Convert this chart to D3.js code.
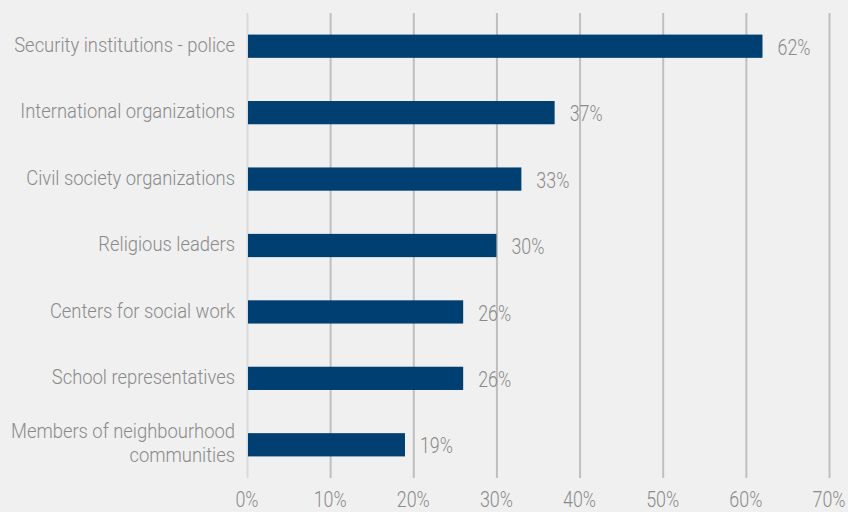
<!DOCTYPE html>
<html>
<head>
<meta charset="utf-8">
<script src="https://cdn.jsdelivr.net/npm/d3@7"></script>
<style>
  html, body { margin: 0; padding: 0; background: #f0f0f0; }
  svg { display: block; }
  text { font-family: Roboto, "Noto Sans", sans-serif; font-weight: 300; fill: #8a8a8a; }
</style>
</head>
<body>
<svg id="chart" width="848" height="512"></svg>
<script>
const categories = [
  "Security institutions - police",
  "International organizations",
  "Civil society organizations",
  "Religious leaders",
  "Centers for social work",
  "School representatives",
  "Members of neighbourhood communities"
];
const values = [62, 37, 33, 30, 26, 26, 19];
const tickValues = [0, 10, 20, 30, 40, 50, 60, 70];

const W = 848, H = 512;
const margin = { top: 13, right: 19, bottom: 34, left: 247 };
const svg = d3.select("#chart");

svg.append("rect").attr("width", W).attr("height", H).attr("fill", "#f0f0f0");

const x = d3.scaleLinear().domain([0, 70]).range([margin.left, W - margin.right]);
const y = d3.scaleBand().domain(categories).range([margin.top, H - margin.bottom]).paddingInner(0.65).paddingOuter(0.325);

// condensed look: measure a sample string and squeeze horizontally
function squeezeFactor(sample, size, target) {
  const t = svg.append("text").attr("font-size", size).text(sample);
  const w = t.node().getComputedTextLength();
  t.remove();
  return target / w;
}
const catSize = 19.5, numSize = 22;
const catScale = squeezeFactor(categories[0], catSize, 221);
const numScale = squeezeFactor("62%", numSize, 33);

// vertical gridlines
svg.append("g").selectAll("line").data(tickValues).join("line")
  .attr("x1", d => x(d) + 0.5).attr("x2", d => x(d) + 0.5)
  .attr("y1", margin.top).attr("y2", H - margin.bottom)
  .attr("stroke", d => d === 0 ? "#d9d9d9" : "#bfbfbf")
  .attr("stroke-width", 2);

// x-axis tick labels
svg.append("g").selectAll("text").data(tickValues).join("text")
  .attr("transform", d => `translate(${x(d)},499.5) scale(${numScale},1)`)
  .attr("text-anchor", "middle").attr("dominant-baseline", "central")
  .attr("font-size", numSize)
  .text(d => d + "%");

// bars
svg.append("g").selectAll("rect").data(categories).join("rect")
  .attr("x", x(0) + 1)
  .attr("y", d => y(d))
  .attr("width", (d, i) => x(values[i]) - x(0) - 1)
  .attr("height", y.bandwidth())
  .attr("fill", "#003f72");

// value labels
svg.append("g").selectAll("text").data(categories).join("text")
  .attr("transform", (d, i) => `translate(${x(values[i]) + 15},${y(d) + y.bandwidth() / 2 + 1}) scale(${numScale},1)`)
  .attr("dominant-baseline", "central")
  .attr("font-size", numSize)
  .text((d, i) => values[i] + "%");

// category labels (wrapped where needed)
const wrap = {
  "Members of neighbourhood communities": ["Members of neighbourhood", "communities"]
};
const catG = svg.append("g");
categories.forEach(c => {
  const lines = wrap[c] || [c];
  const cy = y(c) + y.bandwidth() / 2 - 1;
  const lh = 24;
  lines.forEach((ln, j) => {
    catG.append("text")
      .attr("transform", `translate(235,${cy + (j - (lines.length - 1) / 2) * lh}) scale(${catScale},1)`)
      .attr("text-anchor", "end")
      .attr("dominant-baseline", "central")
      .attr("font-size", catSize)
      .text(ln);
  });
});
</script>
</body>
</html>
